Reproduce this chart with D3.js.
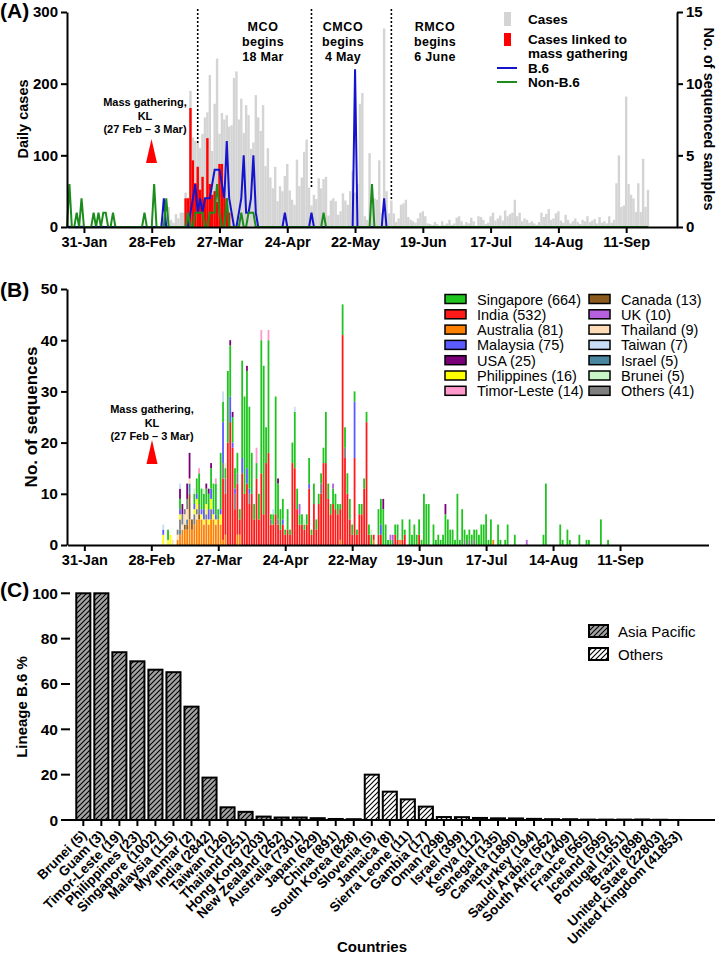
<!DOCTYPE html>
<html>
<head>
<meta charset="utf-8">
<script src="https://cdn.jsdelivr.net/npm/d3@7"></script>
<style>
body { margin: 0; background: #fff; }
svg { display: block; font-family: "Liberation Sans", Arial, sans-serif; }
</style>
</head>
<body>
<svg id="fig" width="720" height="958"></svg>
<script>
// day numbers below count from 24 Jan 2020 (day 0)
const tickDays = [7, 35, 63, 91, 119, 147, 175, 203, 231]

/* ---------- panel A ---------- */
// daily cases, one value per day from day 0 (24 Jan) to day 240
const dailyCases = [
  0,3,0,0,0,1,3,  0,0,0,0,0,0,2,  0,2,0,0,1,0,0,  0,0,1,1,0,1,0,
  0,0,0,0,0,0,1,  1,0,0,0,7,14,5,  28,10,6,18,12,20,20,  48,41,190,125,120,117,110,
  130,153,160,212,106,172,235,  130,159,150,156,140,142,208,  217,150,179,131,170,156,109,
  118,184,153,134,170,85,110,  69,54,84,36,57,50,71,  88,51,38,31,94,57,69,
  105,122,55,30,45,39,68,  54,67,70,16,37,40,36,  17,22,47,37,31,50,78,
  48,60,172,187,15,10,103,  30,40,38,93,20,277,50,  19,37,19,7,12,31,33,
  38,14,10,8,6,12,20,  22,15,5,4,3,7,4,  2,8,3,5,10,3,5,
  13,15,8,3,7,5,13,  8,2,15,14,10,4,6,  15,20,9,12,16,9,23,
  15,18,20,38,15,20,8,  12,10,6,8,5,3,7,  20,14,18,25,10,12,19,
  22,9,6,17,10,5,8,  12,7,4,10,8,15,7,  9,11,5,14,6,8,5,
  15,6,10,61,100,28,30,  182,60,45,40,21,61,21,  95,28,52
]
// cases linked to the mass gathering {day: cases}
const massGatheringCases = {49:40, 50:40, 51:166, 52:93, 53:61, 54:84, 55:52, 56:70, 57:40, 58:124,
  59:60, 60:45, 61:50, 62:35, 63:88, 64:88, 65:40, 66:40, 67:20}
// sequenced samples per day {day: n}
const b6Samples = {40:2, 51:1, 52:2, 53:3, 54:1, 55:2, 56:1, 57:2, 58:2, 59:2, 60:3, 61:4, 62:4, 63:4,
  64:3, 65:2, 66:6, 67:2, 68:1, 71:1, 72:2, 73:5, 74:1, 75:1, 76:2, 77:5, 78:1, 90:1, 101:1, 119:11, 131:2}
const nonB6Samples = {1:3, 4:1, 6:2, 11:1, 13:1, 15:1, 16:1, 19:1, 32:1, 36:3, 41:2, 50:1, 53:1, 54:1,
  55:1, 56:1, 59:1, 60:1, 61:1, 62:3, 63:1, 66:2, 72:1, 75:1, 76:1, 77:1, 106:1, 126:3}
const phaseNames = ["MCO", "CMCO", "RMCO"]
const phaseDates = ["18 Mar", "4 May", "6 June"]
const phaseDays = [54, 101, 134]

/* ---------- panel B ---------- */
const countryKeys = ["AU", "IN", "CA", "IL", "TH", "OT", "PH", "MY", "SG", "BN", "US", "TL", "UK", "TW"]
const legendB = [
  ["SG", "Singapore (664)"], ["IN", "India (532)"], ["AU", "Australia (81)"], ["MY", "Malaysia (75)"],
  ["US", "USA (25)"], ["PH", "Philippines (16)"], ["TL", "Timor-Leste (14)"],
  ["CA", "Canada (13)"], ["UK", "UK (10)"], ["TH", "Thailand (9)"], ["TW", "Taiwan (7)"],
  ["IL", "Israel (5)"], ["BN", "Brunei (5)"], ["OT", "Others (41)"]
]
const seqAU = {46:1, 47:2, 48:3, 49:3, 50:3, 51:5, 52:3, 53:4, 54:5, 55:5, 56:5, 57:4, 58:5, 59:4, 60:5,
  61:5, 62:4, 63:5, 64:4, 65:1, 66:2, 71:2, 72:2, 114:1, 128:1, 139:1, 178:1}
const seqIN = {65:12, 66:8, 67:20, 68:24, 69:19, 70:7, 71:10, 72:3, 73:14, 74:10, 75:12, 76:8, 77:10, 78:5,
  79:13, 80:5, 81:14, 82:6, 83:16, 84:18, 85:4, 86:4, 87:6, 88:4, 89:3, 90:4, 91:2, 92:3, 93:2, 94:16,
  95:15, 96:7, 97:4, 98:4, 99:3, 100:4, 101:11, 102:2, 103:8, 104:3, 105:8, 106:10, 107:16, 108:16,
  109:9, 110:6, 111:8, 112:7, 113:6, 114:6, 115:41, 116:17, 117:10, 118:5, 119:2, 120:17, 121:2, 122:6,
  123:6, 124:11, 125:24, 126:2, 128:1, 130:2, 131:2, 137:2, 138:1, 140:1, 141:2, 147:2}
const seqCA = {49:1, 50:1, 51:5, 52:2, 55:1}
const seqIL = {47:1, 50:1, 51:2}
const seqTH = {44:1, 46:1, 48:1, 49:2, 50:2, 51:1, 54:1}
const seqOT = {46:1, 47:2, 48:2, 49:1, 50:2, 53:2, 54:1, 55:2, 58:1, 60:2, 65:3, 66:3, 70:3, 71:2, 76:2,
  85:1, 88:1, 106:2, 116:2, 136:1, 166:1, 168:1, 170:1}
const seqPH = {40:2, 42:1, 43:2, 47:1, 53:1, 54:2, 56:1, 57:1, 58:2, 59:1, 60:2, 61:1, 62:1, 64:2}
const seqMY = {40:1, 47:1, 53:1, 54:1, 56:1, 57:2, 59:2, 60:2, 61:1, 62:1, 64:1, 65:8, 68:5, 69:1, 70:1,
  73:3, 75:3, 76:1, 90:1, 101:1, 120:11, 131:2}
const seqSG = {42:2, 47:2, 53:2, 54:3, 55:6, 56:4, 57:3, 58:3, 59:3, 60:4, 61:5, 62:6, 63:2, 64:11, 65:4,
  66:2, 67:14, 68:10, 69:5, 70:4, 71:4, 72:2, 73:19, 74:19, 75:19, 76:16, 77:8, 78:3, 79:3, 80:5, 81:26,
  82:29, 83:7, 84:22, 85:1, 86:2, 87:23, 88:7, 89:4, 90:4, 91:1, 92:4, 93:1, 94:4, 95:11, 96:4, 97:2,
  98:2, 99:1, 100:2, 101:5, 102:1, 103:4, 104:2, 105:2, 106:2, 107:3, 108:10, 109:3, 110:2, 111:3,
  112:3, 113:2, 114:1, 115:6, 116:4, 117:4, 118:4, 119:2, 120:2, 121:1, 122:2, 123:2, 124:2, 125:2,
  126:2, 127:2, 130:5, 131:5, 132:7, 133:4, 134:1, 135:1, 137:2, 138:3, 140:4, 141:1, 143:5, 144:2,
  145:4, 146:2, 147:3, 148:1, 149:10, 150:8, 151:8, 153:4, 154:1, 155:2, 156:1, 157:2, 158:6, 159:5,
  160:3, 161:3, 162:1, 163:10, 164:1, 165:7, 166:2, 167:2, 168:2, 169:2, 170:2, 171:3, 172:2, 173:4,
  174:4, 175:6, 176:1, 177:5, 180:4, 181:1, 183:1, 184:4, 187:2, 199:2, 200:12, 206:4, 207:1, 209:3,
  210:1, 214:2, 217:1, 218:1, 223:5, 226:1}
const seqBN = {53:1, 57:1, 66:1, 99:1, 127:1}
const seqUS = {47:2, 48:2, 50:3, 51:5, 58:1, 59:1, 60:1, 68:1, 69:1, 75:1, 88:1, 132:2, 158:2}
const seqTL = {55:1, 62:1, 79:3, 81:2, 84:2}
const seqUK = {97:2, 111:1, 135:1, 136:1, 192:1}
const seqTW = {40:1, 47:1, 65:2, 86:1, 95:1}

/* ---------- panel C ---------- */
const countriesC = ["Brunei (5)", "Guam (3)", "Timor-Leste (19)", "Philippines (23)", "Singapore (1002)",
  "Malaysia (115)", "Myanmar (2)", "India (2842)", "Taiwan (126)", "Thailand (251)", "Hong Kong (203)",
  "New Zealand (262)", "Australia (7301)", "Japan (629)", "China (891)", "South Korea (828)",
  "Slovenia (5)", "Jamaica (8)", "Sierra Leone (11)", "Gambia (17)", "Oman (298)", "Israel (399)",
  "Kenya (112)", "Senegal (135)", "Canada (1890)", "Turkey (194)", "Saudi Arabia (562)",
  "South Africa (1409)", "France (565)", "Iceland (595)", "Portugal (1651)", "Brazil (898)",
  "United State (22803)", "United Kingdom (41853)"]
const b6Percent = [100, 100, 74, 70, 66.3, 65.2, 50, 18.7, 5.6, 3.6, 1.5, 1.1, 1.1, 0.8, 0.45, 0.36,
  20, 12.5, 9.1, 5.9, 1.3, 1.25, 0.9, 0.74, 0.69, 0.5, 0.36, 0.35, 0.18, 0.17, 0.18, 0.22, 0.11, 0.02]
const regionC = countriesC.map((c, i) => i < 16 ? "Asia Pacific" : "Others")

/* ---------------------------------------------------------------- */
const svg = d3.select("#fig")
const FONT = "'Liberation Sans', Arial, sans-serif"
const day = d => new Date(Date.UTC(2020, 0, 24 + d))
const fmt = d3.utcFormat("%-d-%b")

const colors = {SG: "#1fc41f", IN: "#ff1a1a", AU: "#ff8000", MY: "#5b5bff", US: "#7a007a", PH: "#ffff00",
  TL: "#ff99cc", CA: "#8b5a1e", UK: "#b660e0", TH: "#ffdcb8", TW: "#c8dcf8", IL: "#4a86a0", BN: "#c8f4c8", OT: "#7f7f7f"}
const seqSeries = {AU: seqAU, IN: seqIN, CA: seqCA, IL: seqIL, TH: seqTH, OT: seqOT, PH: seqPH, MY: seqMY,
  SG: seqSG, BN: seqBN, US: seqUS, TL: seqTL, UK: seqUK, TW: seqTW}

function styleAxis(g, size) {
  g.attr("font-family", FONT).attr("font-size", size).attr("font-weight", "bold")
  g.select(".domain").attr("stroke-width", 2)
  g.selectAll(".tick line").attr("stroke-width", 2)
  g.selectAll(".tick text").attr("fill", "#000")
}
function label(x, y, txt, size, opts = {}) {
  return svg.append("text").attr("x", x).attr("y", y).text(txt)
    .attr("font-size", size).attr("font-weight", opts.weight || "bold")
    .attr("text-anchor", opts.anchor || "start")
    .attr("transform", opts.rotate ? `rotate(${opts.rotate},${x},${y})` : null)
}

/* ===== Panel A ===== */
const nDays = dailyCases.length
const xA = d3.scaleUtc().domain([day(0), day(252)]).range([67, 677])
const yA = d3.scaleLinear().domain([0, 300]).range([227, 12])
const yA2 = d3.scaleLinear().domain([0, 15]).range([227, 12])
const bwA = xA(day(1)) - xA(day(0))

const gA = svg.append("g")
gA.selectAll("rect.case").data(dailyCases).join("rect").attr("class", "case")
  .attr("x", (v, i) => xA(day(i)) - bwA / 2).attr("width", bwA)
  .attr("y", v => yA(v)).attr("height", v => yA(0) - yA(v)).attr("fill", "#d4d4d4")
gA.selectAll("rect.mass").data(Object.entries(massGatheringCases)).join("rect").attr("class", "mass")
  .attr("x", d => xA(day(+d[0])) - bwA / 2).attr("width", bwA)
  .attr("y", d => yA(d[1])).attr("height", d => yA(0) - yA(d[1])).attr("fill", "#ff0000")

const daily = obj => d3.range(nDays).map(i => obj[i] || 0)
const lineA = d3.line().x((v, i) => xA(day(i))).y(v => yA2(v))
gA.append("path").attr("d", lineA(daily(b6Samples))).attr("fill", "none").attr("stroke", "#1414cc").attr("stroke-width", 2)
gA.append("path").attr("d", lineA(daily(nonB6Samples))).attr("fill", "none").attr("stroke", "#1c8c1c").attr("stroke-width", 2)

// phase lines
phaseDays.forEach((d, i) => {
  const x = xA(day(d))
  const bottoms = [143, 188, 200]
  gA.append("line").attr("x1", x).attr("x2", x).attr("y1", 9).attr("y2", bottoms[i])
    .attr("stroke", "#000").attr("stroke-width", 1.6).attr("stroke-dasharray", "2,2")
  const cx = [263, 343, 435][i]
  label(cx, 31, phaseNames[i], 12.5, {anchor: "middle"}).attr("letter-spacing", 0.6)
  label(cx, 46, "begins", 12.5, {anchor: "middle"}).attr("letter-spacing", 0.3)
  label(cx, 61, phaseDates[i], 12.5, {anchor: "middle"}).attr("letter-spacing", 0.3)
})

const axA = gA.append("g").attr("transform", "translate(0,227)")
  .call(d3.axisBottom(xA).tickValues(tickDays.map(day)).tickFormat(fmt).tickSize(6).tickSizeOuter(0).tickPadding(4))
styleAxis(axA, 14.5)
const ayA = gA.append("g").attr("transform", "translate(67,0)")
  .call(d3.axisLeft(yA).tickValues([0, 100, 200, 300]).tickSize(6).tickSizeOuter(0).tickPadding(3))
styleAxis(ayA, 15)
const ayA2 = gA.append("g").attr("transform", "translate(677,0)")
  .call(d3.axisRight(yA2).tickValues([0, 5, 10, 15]).tickSize(6).tickSizeOuter(0).tickPadding(3))
styleAxis(ayA2, 15)

label(0, 18, "(A)", 21)
label(28, 119, "Daily cases", 14.5, {anchor: "middle", rotate: -90})
label(704, 119, "No. of sequenced samples", 14.5, {anchor: "middle", rotate: 90})

function massGathering(cx, y0) {
  label(cx, y0, "Mass gathering,", 11, {anchor: "middle"})
  label(cx, y0 + 13.5, "KL", 11, {anchor: "middle"})
  label(cx, y0 + 27, "(27 Feb \u2013 3 Mar)", 11, {anchor: "middle"})
}
massGathering(145, 106)
gA.append("path").attr("d", "M146,163 L157,163 L151.5,139 Z").attr("fill", "#ff0000")

// legend A
gA.append("rect").attr("x", 504).attr("y", 12).attr("width", 7).attr("height", 14).attr("fill", "#d4d4d4")
label(528, 24, "Cases", 13.5)
gA.append("rect").attr("x", 504).attr("y", 33).attr("width", 7).attr("height", 13).attr("fill", "#ff0000")
label(528, 44, "Cases linked to", 13.5)
label(528, 58, "mass gathering", 13.5)
gA.append("line").attr("x1", 497).attr("x2", 517).attr("y1", 68).attr("y2", 68).attr("stroke", "#1414cc").attr("stroke-width", 2)
label(528, 73, "B.6", 13.5)
gA.append("line").attr("x1", 497).attr("x2", 517).attr("y1", 82).attr("y2", 82).attr("stroke", "#1c8c1c").attr("stroke-width", 2)
label(528, 87, "Non-B.6", 13.5)

/* ===== Panel B ===== */
const xB = d3.scaleUtc().domain([day(0), day(268)]).range([67.6, 708.5])
const yB = d3.scaleLinear().domain([0, 50]).range([545, 289])
const bwB = xB(day(1)) - xB(day(0))
const rowsB = d3.range(38, 230).map(d => {
  const r = {d}
  countryKeys.forEach(k => r[k] = seqSeries[k][d] || 0)
  return r
})
const stacked = d3.stack().keys(countryKeys)(rowsB)
const gB = svg.append("g")
gB.selectAll("g.layer").data(stacked).join("g").attr("class", "layer").attr("fill", s => colors[s.key])
  .selectAll("rect").data(s => s.filter(p => p[1] > p[0])).join("rect")
  .attr("x", p => xB(day(p.data.d)) - bwB / 2 + 0.3).attr("width", bwB - 0.6)
  .attr("y", p => yB(p[1])).attr("height", p => yB(p[0]) - yB(p[1]))

const axB = gB.append("g").attr("transform", "translate(0,545)")
  .call(d3.axisBottom(xB).tickValues(tickDays.map(day)).tickFormat(fmt).tickSize(6).tickSizeOuter(0).tickPadding(4))
styleAxis(axB, 14.5)
const ayB = gB.append("g").attr("transform", "translate(67,0)")
  .call(d3.axisLeft(yB).tickValues([0, 10, 20, 30, 40, 50]).tickSize(6).tickSizeOuter(0).tickPadding(3))
styleAxis(ayB, 15.5)

label(0, 297, "(B)", 21)
label(37, 417, "No. of sequences", 17, {anchor: "middle", rotate: -90})
massGathering(152, 413)
gB.append("path").attr("d", "M146.5,464 L157.5,464 L152,440 Z").attr("fill", "#ff0000")

legendB.forEach(([k, name], i) => {
  const col = Math.floor(i / 7), row = i % 7
  const x = col ? 589 : 445, y = 299 + row * 15.3
  gB.append("rect").attr("x", x).attr("y", y - 4.5).attr("width", 21).attr("height", 9)
    .attr("fill", colors[k]).attr("stroke", "#000").attr("stroke-width", 1.5)
  label(x + 32, y + 5.5, name, 14.5, {weight: "normal"})
})

/* ===== Panel C ===== */
const defs = svg.append("defs")
function hatch(id, bg) {
  const p = defs.append("pattern").attr("id", id).attr("patternUnits", "userSpaceOnUse")
    .attr("width", 5).attr("height", 5)
  p.append("rect").attr("width", 5).attr("height", 5).attr("fill", bg)
  p.append("path").attr("d", "M-1,1 L1,-1 M0,5 L5,0 M4,6 L6,4").attr("stroke", "#000").attr("stroke-width", 1.1)
}
hatch("hatchAP", "#a3a3a3")
hatch("hatchOT", "#ffffff")
const fillC = r => r === "Asia Pacific" ? "url(#hatchAP)" : "url(#hatchOT)"

const xC = d3.scaleBand().domain(countriesC).range([74.3, 687.3]).paddingInner(0.22).paddingOuter(0.11)
const yC = d3.scaleLinear().domain([0, 100]).range([820, 593.3])
const gC = svg.append("g")
gC.selectAll("rect").data(countriesC).join("rect")
  .attr("x", (c, i) => xC(c)).attr("width", xC.bandwidth())
  .attr("y", (c, i) => yC(b6Percent[i])).attr("height", (c, i) => yC(0) - yC(b6Percent[i]))
  .attr("fill", (c, i) => fillC(regionC[i])).attr("stroke", "#000").attr("stroke-width", 2)

gC.append("line").attr("x1", 63).attr("x2", 715).attr("y1", 820).attr("y2", 820).attr("stroke", "#000").attr("stroke-width", 2)
countriesC.forEach(c => {
  const cx = xC(c) + xC.bandwidth() / 2
  gC.append("line").attr("x1", cx).attr("x2", cx).attr("y1", 820).attr("y2", 826).attr("stroke", "#000").attr("stroke-width", 2)
  label(cx + 4, 836, c, 13.5, {anchor: "end", rotate: -45})
})
yC.ticks(5).forEach(t => {
  gC.append("line").attr("x1", 61).attr("x2", 70).attr("y1", yC(t)).attr("y2", yC(t)).attr("stroke", "#000").attr("stroke-width", 2)
  label(58, yC(t) + 5.5, t, 15.5, {anchor: "end"})
})

label(0, 597, "(C)", 21)
label(27, 707, "Lineage B.6 %", 15, {anchor: "middle", rotate: -90})
label(372, 952, "Countries", 15, {anchor: "middle"})

;["Asia Pacific", "Others"].forEach((r, i) => {
  const y = 625 + i * 23
  gC.append("rect").attr("x", 589).attr("y", y).attr("width", 19).attr("height", 12)
    .attr("fill", fillC(r)).attr("stroke", "#000").attr("stroke-width", 2)
  label(618, y + 11.5, r, 15, {weight: "normal"})
})
</script>
</body>
</html>
